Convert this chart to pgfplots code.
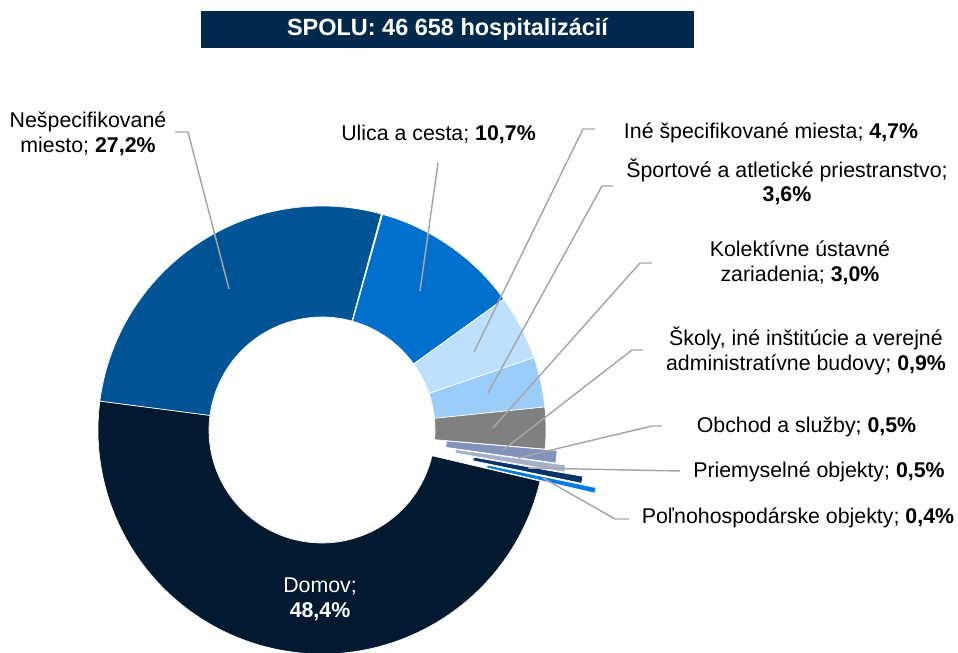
\documentclass[border=0pt]{standalone}
\usepackage{fontspec}
\setmainfont{Liberation Sans}
\usepackage{pgfplots}
\pgfplotsset{compat=1.18}

\definecolor{cDomov}{RGB}{2,26,48}
\definecolor{cNesp}{RGB}{0,83,148}
\definecolor{cUlica}{RGB}{0,112,204}
\definecolor{cIne}{RGB}{189,224,254}
\definecolor{cSport}{RGB}{155,205,250}
\definecolor{cKolekt}{RGB}{128,128,128}
\definecolor{cSkoly}{RGB}{130,147,185}
\definecolor{cObchod}{RGB}{166,176,200}
\definecolor{cPriem}{RGB}{0,52,102}
\definecolor{cPolno}{RGB}{0,122,230}
\definecolor{cTitle}{RGB}{0,41,76}
\definecolor{cLead}{RGB}{166,166,166}

% ring radii in axis units (1 unit = 0.75pt)
\newcommand\Rout{224}
\newcommand\Rin{113}
% one ring segment clockwise from \acur: #1 share in %, #2 colour, #3 pull-out
\newcommand\slice[3]{%
  \pgfmathsetmacro\aend{\acur-3.6*#1}%
  \pgfmathsetmacro\amid{(\acur+\aend)/2}%
  \pgfmathsetmacro\ax{#3*cos(\amid)+\Rout*cos(\acur)}%
  \pgfmathsetmacro\ay{#3*sin(\amid)+\Rout*sin(\acur)}%
  \pgfmathsetmacro\bx{#3*cos(\amid)+\Rin*cos(\aend)}%
  \pgfmathsetmacro\by{#3*sin(\amid)+\Rin*sin(\aend)}%
  \edef\tmp{\noexpand\fill[#2, draw=white, line width=0.5pt]
    (axis cs:\ax,\ay) arc[start angle=\acur, end angle=\aend, radius=\Rout*0.75pt]
    -- (axis cs:\bx,\by) arc[start angle=\aend, end angle=\acur, radius=\Rin*0.75pt] -- cycle;}%
  \tmp
  \xdef\acur{\aend}%
}

\begin{document}
\begin{tikzpicture}[
  lbl/.style={font=\fontsize{16}{18.5}\selectfont, align=center, inner sep=0pt},
  lead/.style={cLead, line width=1.1pt},
]
\begin{axis}[
  hide axis, clip=false, scale only axis,
  x=0.75pt, y=0.75pt,
  xmin=-322, xmax=636, ymin=-223, ymax=430,
]
\coordinate (bl) at (axis cs:-322,-223);
\coordinate (tr) at (axis cs:636,430);

\xdef\acur{74.3}
\slice{10.7}{cUlica}{0}
\slice{4.7}{cIne}{0}
\slice{3.6}{cSport}{0}
\slice{3.0}{cKolekt}{0}
\slice{0.9}{cSkoly}{12}
\slice{0.5}{cObchod}{22}
\slice{0.5}{cPriem}{41}
\slice{0.4}{cPolno}{56}
\slice{48.4}{cDomov}{0}
\slice{27.2}{cNesp}{0}

% leader lines
\draw[lead] (axis cs:-147,298) -- (axis cs:-134,298) -- (axis cs:-93,141);
\draw[lead] (axis cs:116,267) -- (axis cs:98,139);
\draw[lead] (axis cs:273,301) -- (axis cs:261,301) -- (axis cs:152,78);
\draw[lead] (axis cs:291,244) -- (axis cs:280,244) -- (axis cs:166,37);
\draw[lead] (axis cs:330,167) -- (axis cs:318,167) -- (axis cs:171,2);
\draw[lead] (axis cs:321,80) -- (axis cs:310,80) -- (axis cs:181,-20);
\draw[lead] (axis cs:340,4) -- (axis cs:330,4) -- (axis cs:196,-28);
\draw[lead] (axis cs:358,-41) -- (axis cs:206,-38);
\draw[lead] (axis cs:307,-89) -- (axis cs:293,-89) -- (axis cs:221,-48);

% labels
\node[lbl] at (axis cs:-234,296) {Nešpecifikované\\miesto; \textbf{27,2\%}};
\node[lbl] at (axis cs:116.5,296) {Ulica a cesta; \textbf{10,7\%}};
\node[lbl] at (axis cs:449,297) {Iné špecifikované miesta; \textbf{4,7\%}};
\node[lbl] at (axis cs:465,248) {Športové a atletické priestranstvo;\\\textbf{3,6\%}};
\node[lbl] at (axis cs:478,167) {Kolektívne ústavné\\zariadenia; \textbf{3,0\%}};
\node[lbl] at (axis cs:484,79) {Školy, iné inštitúcie a verejné\\administratívne budovy; \textbf{0,9\%}};
\node[lbl] at (axis cs:484.5,3) {Obchod a služby; \textbf{0,5\%}};
\node[lbl] at (axis cs:497,-42) {Priemyselné objekty; \textbf{0,5\%}};
\node[lbl] at (axis cs:476,-88) {Poľnohospodárske objekty; \textbf{0,4\%}};
\node[lbl, text=white] at (axis cs:-2,-169) {Domov;\\\textbf{48,4\%}};

% title box
\node[fill=cTitle, text=white, minimum width=369.75pt, minimum height=27.75pt,
      font=\fontsize{17.6}{20}\selectfont\bfseries] at (axis cs:125.5,400.5)
  {SPOLU: 46 658 hospitalizácií};
\end{axis}
\pgfresetboundingbox
\path[use as bounding box] (bl) rectangle (tr);
\end{tikzpicture}
\end{document}
